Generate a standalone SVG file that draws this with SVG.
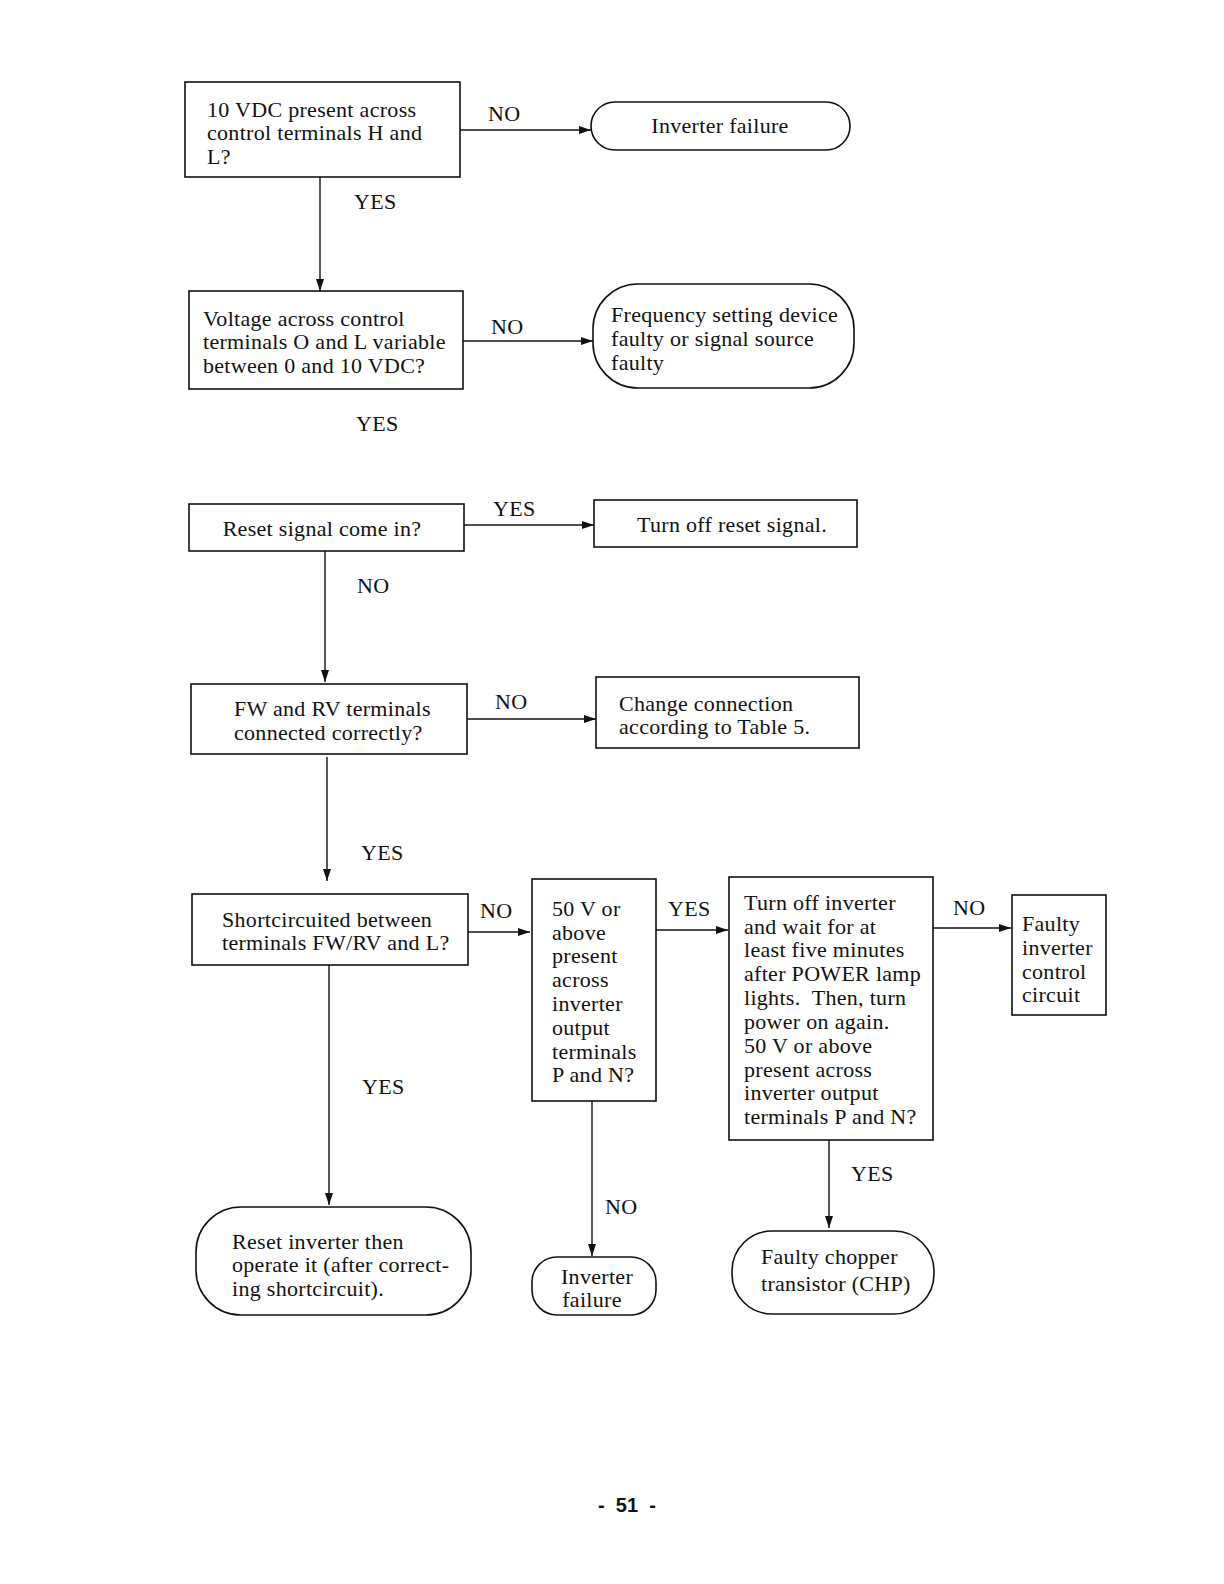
<svg xmlns="http://www.w3.org/2000/svg" width="1224" height="1584" viewBox="0 0 1224 1584">
<style>
.b{fill:#fff;stroke:#111;stroke-width:1.6}
.t{font-family:"Liberation Serif","DejaVu Serif",serif;font-size:22px;letter-spacing:0.3px;fill:#111}
.c{stroke:#111;stroke-width:1.4;fill:none}
.m{text-anchor:middle}
.pg{font-family:"Liberation Sans",Arial,sans-serif;font-size:20px;font-weight:bold;fill:#111}
</style>
<defs>
<marker id="ah" viewBox="0 0 12 8" refX="12" refY="4" markerWidth="12" markerHeight="8" markerUnits="userSpaceOnUse" orient="auto">
<path d="M0,0 L12,4 L0,8 Z" fill="#111"/>
</marker>
</defs>
<rect width="1224" height="1584" fill="#fff"/>

<g id="connectors">
<line class="c" x1="460" y1="130" x2="591" y2="130" marker-end="url(#ah)"/>
<line class="c" x1="320" y1="177" x2="320" y2="291" marker-end="url(#ah)"/>
<line class="c" x1="463" y1="341" x2="593" y2="341" marker-end="url(#ah)"/>
<line class="c" x1="464" y1="525" x2="594" y2="525" marker-end="url(#ah)"/>
<line class="c" x1="325" y1="551" x2="325" y2="682" marker-end="url(#ah)"/>
<line class="c" x1="467" y1="719" x2="596" y2="719" marker-end="url(#ah)"/>
<line class="c" x1="327" y1="757" x2="327" y2="881" marker-end="url(#ah)"/>
<line class="c" x1="468" y1="932" x2="530" y2="932" marker-end="url(#ah)"/>
<line class="c" x1="656" y1="930" x2="728" y2="930" marker-end="url(#ah)"/>
<line class="c" x1="933" y1="928" x2="1011" y2="928" marker-end="url(#ah)"/>
<line class="c" x1="329" y1="965" x2="329" y2="1205" marker-end="url(#ah)"/>
<line class="c" x1="592" y1="1101" x2="592" y2="1256" marker-end="url(#ah)"/>
<line class="c" x1="829" y1="1140" x2="829" y2="1228" marker-end="url(#ah)"/>
<text class="t" x="488" y="121">NO</text>
<text class="t" x="354" y="209">YES</text>
<text class="t" x="491" y="334">NO</text>
<text class="t" x="356" y="431">YES</text>
<text class="t" x="493" y="516">YES</text>
<text class="t" x="357" y="593">NO</text>
<text class="t" x="495" y="709">NO</text>
<text class="t" x="361" y="860">YES</text>
<text class="t" x="480" y="918">NO</text>
<text class="t" x="668" y="916">YES</text>
<text class="t" x="953" y="915">NO</text>
<text class="t" x="362" y="1094">YES</text>
<text class="t" x="605" y="1214">NO</text>
<text class="t" x="851" y="1181">YES</text>
</g>

<g id="n1">
<rect class="b" x="185" y="82" width="275" height="95"/>
<text class="t" x="207" y="117">10 VDC present across</text>
<text class="t" x="207" y="140">control terminals H and</text>
<text class="t" x="207" y="164">L?</text>
</g>
<g id="n2">
<rect class="b" x="591" y="102" width="259" height="48" rx="24"/>
<text class="t m" x="720" y="133">Inverter failure</text>
</g>
<g id="n3">
<rect class="b" x="189" y="291" width="274" height="98"/>
<text class="t" x="203" y="326">Voltage across control</text>
<text class="t" x="203" y="349">terminals O and L variable</text>
<text class="t" x="203" y="373">between 0 and 10 VDC?</text>
</g>
<g id="n4">
<rect class="b" x="593" y="284" width="261" height="104" rx="45"/>
<text class="t" x="611" y="322">Frequency setting device</text>
<text class="t" x="611" y="346">faulty or signal source</text>
<text class="t" x="611" y="370">faulty</text>
</g>
<g id="n5">
<rect class="b" x="189" y="504" width="275" height="47"/>
<text class="t m" x="322" y="536">Reset signal come in?</text>
</g>
<g id="n6">
<rect class="b" x="594" y="500" width="263" height="47"/>
<text class="t m" x="732" y="532">Turn off reset signal.</text>
</g>
<g id="n7">
<rect class="b" x="191" y="684" width="276" height="70"/>
<text class="t" x="234" y="716">FW and RV terminals</text>
<text class="t" x="234" y="740">connected correctly?</text>
</g>
<g id="n8">
<rect class="b" x="596" y="677" width="263" height="71"/>
<text class="t" x="619" y="711">Change connection</text>
<text class="t" x="619" y="734">according to Table 5.</text>
</g>
<g id="n9">
<rect class="b" x="192" y="894" width="276" height="71"/>
<text class="t" x="222" y="927">Shortcircuited between</text>
<text class="t" x="222" y="950">terminals FW/RV and L?</text>
</g>
<g id="n10">
<rect class="b" x="532" y="879" width="124" height="222"/>
<text class="t" x="552" y="916">50 V or</text>
<text class="t" x="552" y="940">above</text>
<text class="t" x="552" y="963">present</text>
<text class="t" x="552" y="987">across</text>
<text class="t" x="552" y="1011">inverter</text>
<text class="t" x="552" y="1035">output</text>
<text class="t" x="552" y="1059">terminals</text>
<text class="t" x="552" y="1082">P and N?</text>
</g>
<g id="n11">
<rect class="b" x="729" y="877" width="204" height="263"/>
<text class="t" x="744" y="910">Turn off inverter</text>
<text class="t" x="744" y="934">and wait for at</text>
<text class="t" x="744" y="957">least five minutes</text>
<text class="t" x="744" y="981">after POWER lamp</text>
<text class="t" x="744" y="1005" xml:space="preserve">lights.  Then, turn</text>
<text class="t" x="744" y="1029">power on again.</text>
<text class="t" x="744" y="1053">50 V or above</text>
<text class="t" x="744" y="1077">present across</text>
<text class="t" x="744" y="1100">inverter output</text>
<text class="t" x="744" y="1124">terminals P and N?</text>
</g>
<g id="n12">
<rect class="b" x="1012" y="895" width="94" height="120"/>
<text class="t" x="1022" y="931">Faulty</text>
<text class="t" x="1022" y="955">inverter</text>
<text class="t" x="1022" y="979">control</text>
<text class="t" x="1022" y="1002">circuit</text>
</g>
<g id="n13">
<rect class="b" x="196" y="1207" width="275" height="108" rx="45"/>
<text class="t" x="232" y="1249">Reset inverter then</text>
<text class="t" x="232" y="1272">operate it (after correct-</text>
<text class="t" x="232" y="1296">ing shortcircuit).</text>
</g>
<g id="n14">
<rect class="b" x="532" y="1257" width="124" height="58" rx="25"/>
<text class="t m" x="597" y="1284">Inverter</text>
<text class="t m" x="592" y="1307">failure</text>
</g>
<g id="n15">
<rect class="b" x="732" y="1231" width="202" height="83" rx="40"/>
<text class="t" x="761" y="1264">Faulty chopper</text>
<text class="t" x="761" y="1291">transistor (CHP)</text>
</g>
<text class="pg" x="627" y="1512" text-anchor="middle" xml:space="preserve">-  51  -</text>
</svg>
